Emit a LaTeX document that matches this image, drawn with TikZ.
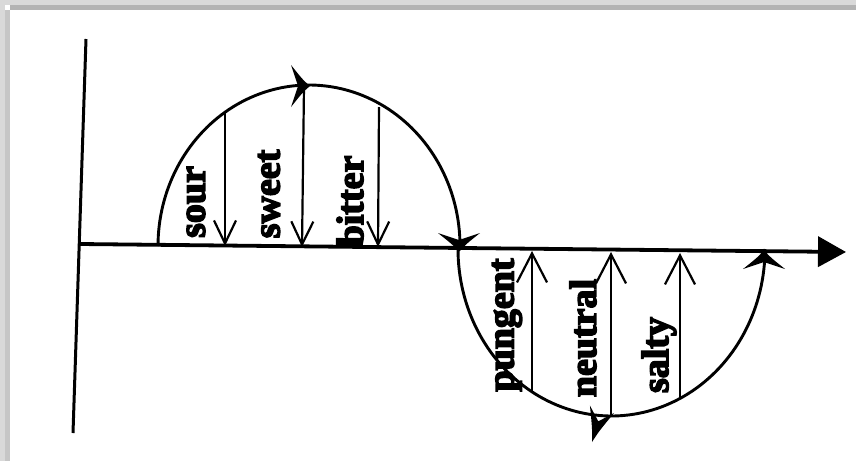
\documentclass[tikz,border=0pt]{standalone}
\usepackage{fontspec}
\setmainfont{Liberation Serif}
\newfontfamily\heavyfont{Liberation Serif}[BoldFont={Liberation Serif Bold}, BoldFeatures={FakeBold=4}]
\usetikzlibrary{arrows.meta}
\definecolor{framelight}{HTML}{D9D9D9}
\definecolor{frametop}{HTML}{B3B3B3}
\definecolor{frameleft}{HTML}{C6C6C6}
\begin{document}
\begin{tikzpicture}[x=1pt,y=-1pt,
  curve/.style={line width=2.9pt},
  axisline/.style={line width=3.8pt},
  taste/.style={line width=2.2pt},
  downtaste/.style={taste, -{Straight Barb[length=23pt,width=22pt]}},
  uptaste/.style={taste, -{Straight Barb[length=29pt,width=30pt]}},
  lbl/.style={rotate=90, font=\heavyfont\fontsize{38}{38}\selectfont\bfseries, inner sep=0pt},
  pics/head/.style={code={\fill (0,0) .. controls (-7,-6) .. (-19,-21) -- (-12,0) -- (-19,21) .. controls (-7,6) .. (0,0);}}
]
\useasboundingbox (0,0) rectangle (856,461);
\fill[white] (0,0) rectangle (856,461);
% screenshot frame
\fill[framelight] (0,0) rectangle (856,5);
\fill[frametop] (10,5) rectangle (856,10);
\fill[framelight] (0,0) rectangle (5,461);
\fill[frameleft] (5,10) rectangle (10,461);

% vertical axis
\coordinate (ytop) at (86,39);
\coordinate (ybot) at (73,433);
\draw[line width=3pt] (ytop) -- (ybot);

% horizontal axis
\coordinate (o) at (80,244);
\coordinate (xend) at (846,252);
\draw[axisline, -{Triangle[length=28pt,width=30pt]}] (o) -- (xend);

% upper and lower arcs
\draw[curve] plot[domain=180:0, samples=100] ({309+151*cos(\x)}, {246-161*sin(\x)});
\draw[curve] plot[domain=180:360, samples=100] ({611.5+153.5*cos(\x)}, {249-167*sin(\x)});

% arrowheads on the curve
\pic[rotate=0] at (310,86) {head};
\pic[rotate=-90] at (459,252) {head};
\pic[rotate=90] at (764,250) {head};
\pic[rotate=-107, xscale=1.8, yscale=0.6] at (592,442) {head};

% taste arrows
\coordinate (sourA) at (225,111);   \coordinate (sourB) at (225,246);
\coordinate (sweetA) at (304,86);   \coordinate (sweetB) at (302,247);
\coordinate (bitterA) at (379,107); \coordinate (bitterB) at (378,247);
\coordinate (pungA) at (532,393);   \coordinate (pungB) at (532,251);
\coordinate (neutA) at (611,416);   \coordinate (neutB) at (611,252);
\coordinate (saltA) at (680,398);   \coordinate (saltB) at (680,253);
\draw[downtaste] (sourA) -- (sourB);
\draw[downtaste] (sweetA) -- (sweetB);
\draw[downtaste] (bitterA) -- (bitterB);
\draw[uptaste] (pungA) -- (pungB);
\draw[uptaste] (neutA) -- (neutB);
\draw[uptaste] (saltA) -- (saltB);

% labels
\node[lbl] (sour) at (196,202) {sour};
\node[lbl] (sweet) at (269,194) {sweet};
\node[lbl] (bitter) at (350,201) {bitter};
\node[lbl] (pungent) at (507,325) {pungent};
\node[lbl] (neutral) at (583,338) {neutral};
\node[lbl] (salty) at (659,355) {salty};
\end{tikzpicture}
\end{document}
